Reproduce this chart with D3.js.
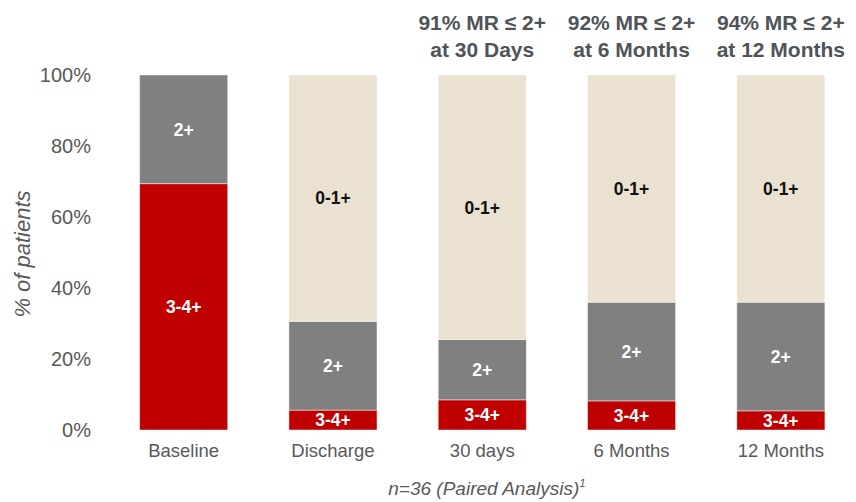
<!DOCTYPE html>
<html>
<head>
<meta charset="utf-8">
<script src="https://cdn.jsdelivr.net/npm/d3@7"></script>
<style>
  html, body { margin: 0; padding: 0; background: #fff; }
  svg { display: block; font-family: "Liberation Sans", Arial, sans-serif; }
</style>
</head>
<body>
<svg id="chart" width="856" height="502"></svg>
<script>
const categories = ["Baseline", "Discharge", "30 days", "6 Months", "12 Months"];
const severe = [69.4, 5.6, 8.5, 8.2, 5.4];      // 3-4+
const moderate = [30.6, 25.0, 17.0, 27.8, 30.6]; // 2+
const mild = [0, 69.4, 74.5, 64.0, 64.0];        // 0-1+
const seriesNames = ["3-4+", "2+", "0-1+"];
const yTicks = [0, 20, 40, 60, 80, 100];
const annotations = [
  null, null,
  ["91% MR \u2264 2+", "at 30 Days"],
  ["92% MR \u2264 2+", "at 6 Months"],
  ["94% MR \u2264 2+", "at 12 Months"]
];
const footnote = "n=36 (Paired Analysis)";

const colors = { "3-4+": "#C00000", "2+": "#808080", "0-1+": "#EAE1D0" };
const labelColors = { "3-4+": "#ffffff", "2+": "#ffffff", "0-1+": "#111111" };

const svg = d3.select("#chart");
const x = d3.scaleBand().domain(categories).range([109, 855.5]).paddingInner(0.41).paddingOuter(0.205);
const y = d3.scaleLinear().domain([0, 100]).range([430, 75]);

const table = categories.map((c, i) => ({ cat: c, "3-4+": severe[i], "2+": moderate[i], "0-1+": mild[i] }));
const stacked = d3.stack().keys(seriesNames)(table);

const g = svg.append("g");
stacked.forEach(layer => {
  const key = layer.key;
  layer.forEach(d => {
    const v = d[1] - d[0];
    if (v <= 0) return;
    const cat = d.data.cat;
    g.append("rect")
      .attr("x", x(cat))
      .attr("width", x.bandwidth())
      .attr("y", y(d[1]))
      .attr("height", y(d[0]) - y(d[1]))
      .attr("fill", colors[key])
      .attr("stroke", "rgba(255,255,255,0.45)")
      .attr("stroke-width", 1);
    g.append("text")
      .attr("x", x(cat) + x.bandwidth() / 2)
      .attr("y", (y(d[0]) + y(d[1])) / 2)
      .attr("dy", "0.36em")
      .attr("text-anchor", "middle")
      .attr("font-weight", "bold")
      .attr("font-size", 17.5)
      .attr("fill", labelColors[key])
      .text(key);
  });
});

// Y axis (labels only)
const yAxis = d3.axisLeft(y).tickValues(yTicks).tickFormat(d => d + "%").tickSize(0).tickPadding(0);
const ya = svg.append("g").attr("transform", "translate(91,0)").call(yAxis);
ya.select(".domain").remove();
ya.selectAll("text").attr("font-size", 20).attr("fill", "#595959")
  .attr("font-family", "'Liberation Sans', Arial, sans-serif");

// X axis (labels only)
const xAxis = d3.axisBottom(x).tickSize(0).tickPadding(0);
const xa = svg.append("g").attr("transform", "translate(0,444)").call(xAxis);
xa.select(".domain").remove();
xa.selectAll("text").attr("font-size", 18.5).attr("fill", "#595959")
  .attr("font-family", "'Liberation Sans', Arial, sans-serif");

// Y title
svg.append("text")
  .attr("transform", "translate(30,254) rotate(-90)")
  .attr("text-anchor", "middle")
  .attr("font-style", "italic")
  .attr("font-size", 22)
  .attr("fill", "#595959")
  .text("% of patients");

// Top annotations
annotations.forEach((a, i) => {
  if (!a) return;
  const t = svg.append("text")
    .attr("text-anchor", "middle")
    .attr("font-weight", "bold")
    .attr("font-size", 21)
    .attr("fill", "#4f5459");
  a.forEach((line, j) => {
    t.append("tspan")
      .attr("x", x(categories[i]) + x.bandwidth() / 2)
      .attr("y", 30 + j * 27)
      .text(line);
  });
});

// Footnote
const fn = svg.append("text")
  .attr("x", 487)
  .attr("y", 495)
  .attr("text-anchor", "middle")
  .attr("font-style", "italic")
  .attr("font-size", 19)
  .attr("fill", "#595959")
  .text(footnote);
fn.append("tspan").attr("font-size", 11.5).attr("dy", -8).text("1");
</script>
</body>
</html>
